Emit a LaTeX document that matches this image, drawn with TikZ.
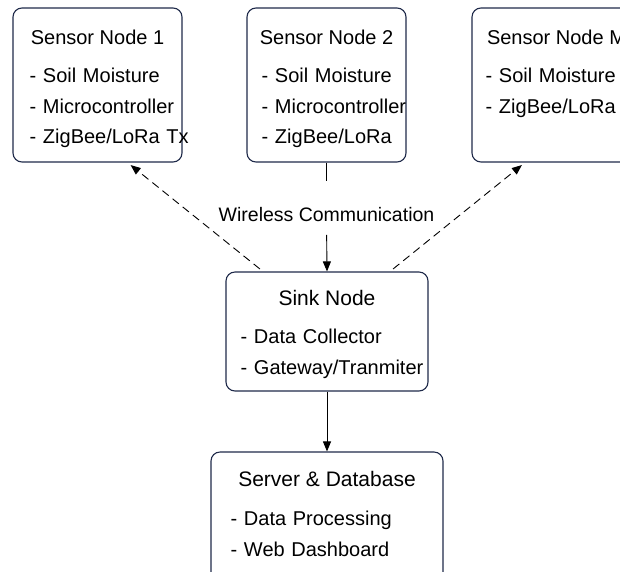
\documentclass[tikz,border=0pt]{standalone}
\usepackage{fontspec}
\setmainfont{Liberation Sans}
\usetikzlibrary{positioning,arrows.meta}
\definecolor{boxline}{HTML}{1F2A4A}

\begin{document}
\begin{tikzpicture}[x=1pt,y=1pt,>={Triangle[length=10pt,width=8pt]}]
\tikzstyle{unit}=[draw=boxline,line width=1.1pt,rounded corners=9pt,inner sep=0pt]
\tikzstyle{head}=[inner sep=0pt,text height=15pt,text depth=5pt,font=\fontsize{20}{24}\selectfont]
\tikzstyle{bighead}=[head,font=\fontsize{21}{25}\selectfont]
\tikzstyle{part}=[inner sep=0pt,text height=15pt,text depth=5pt,text width=190pt,align=left,font=\fontsize{20}{24}\selectfont]
\tikzstyle{link}=[line width=.9pt,black]
\useasboundingbox (0,0) rectangle (620,-571);
\clip (0,0) rectangle (620,-571);

\node[unit,minimum width=169pt,minimum height=154pt] (s1) at (97.5,-85) {};
\node[unit,minimum width=159pt,minimum height=154pt] (s2) at (326.5,-85) {};
\node[unit,minimum width=169pt,minimum height=154pt] (sm) at (556.5,-85) {};
\node[unit,minimum width=202pt,minimum height=119pt] (sink) at (327,-331.5) {};
\node[unit,minimum width=232pt,minimum height=140pt] (srv) at (327,-522) {};

\node[head,below=22pt of s1.north] (s1t) {Sensor Node 1};
\node[part,below right=60pt and 17pt of s1.north west] (s1a) {- Soil Moisture};
\node[part,below=10pt of s1a] (s1b) {- Microcontroller};
\node[part,below=10pt of s1b] (s1c) {- ZigBee/LoRa Tx};

\node[head,below=22pt of s2.north] (s2t) {Sensor Node 2};
\node[part,below right=60pt and 15pt of s2.north west] (s2a) {- Soil Moisture};
\node[part,below=10pt of s2a] (s2b) {- Microcontroller};
\node[part,below=10pt of s2b] (s2c) {- ZigBee/LoRa};

\node[head,below=22pt of sm.north] (smt) {Sensor Node M};
\node[part,below right=60pt and 14pt of sm.north west] (sma) {- Soil Moisture};
\node[part,below=10pt of sma] (smb) {- ZigBee/LoRa};

\node[bighead,below=19pt of sink.north] (sinkt) {Sink Node};
\node[part,below right=57pt and 15pt of sink.north west] (sinka) {- Data Collector};
\node[part,below=10pt of sinka] (sinkb) {- Gateway/Tranmiter};

\node[bighead,below=20pt of srv.north] (srvt) {Server \& Database};
\node[part,below right=59pt and 20pt of srv.north west] (srva) {- Data Processing};
\node[part,below=10pt of srva] (srvb) {- Web Dashboard};

\node[inner sep=0pt,text height=15pt,text depth=0pt,font=\fontsize{19.5}{23}\selectfont,below=44pt of s2] (wc) {Wireless Communication};

\draw[link,shorten >=26pt] (s2.south) -- (wc.north);
\draw[link,->,shorten <=13pt] (wc.south) -- (sink.north);
\draw[link,->] (sink.south) -- (srv.north);
\draw[link,->,dash pattern=on 8pt off 5pt,shorten <=4pt,shorten >=4pt] ([xshift=-64pt]sink.north) -- ([xshift=30pt]s1.south);
\draw[link,->,dash pattern=on 8pt off 5pt,shorten <=4pt,shorten >=4pt] ([xshift=63pt]sink.north) -- ([xshift=-31.5pt]sm.south);
\end{tikzpicture}
\end{document}
